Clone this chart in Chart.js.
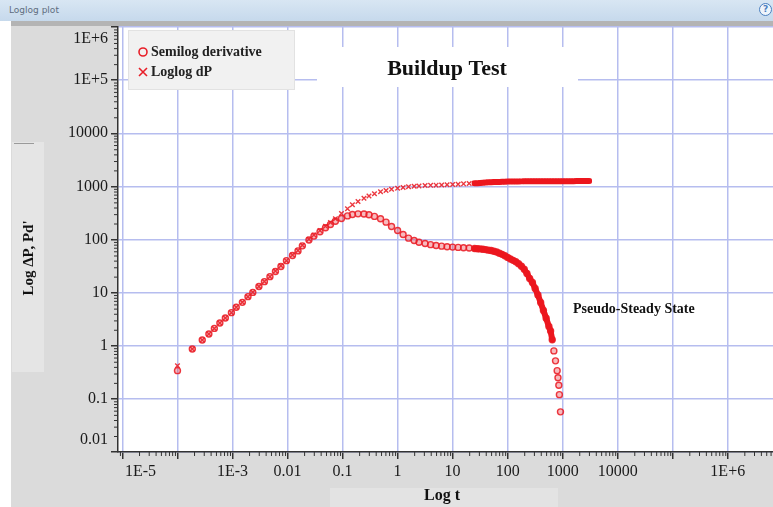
<!DOCTYPE html>
<html>
<head>
<meta charset="utf-8">
<script src="https://cdn.jsdelivr.net/npm/chart.js@4.4.1/dist/chart.umd.min.js"></script>
<style>
html,body{margin:0;padding:0;width:773px;height:507px;overflow:hidden;background:#fff;}
#wrap{position:absolute;left:0;top:0;width:790px;height:507px;}
#bar{position:absolute;left:0;top:0;width:773px;height:21px;background:linear-gradient(#d8e6f3,#c6d9ec);z-index:2;}
#bar span.t{position:absolute;left:9px;top:5px;font:9px "DejaVu Sans",sans-serif;color:#5f6d7e;}
#bar span.q{position:absolute;left:759px;top:3px;width:11px;height:11px;border:1.5px solid #4a7fc0;border-radius:50%;font:bold 9px "DejaVu Sans";color:#4a7fc0;text-align:center;line-height:11px;background:#eef4fb;}
#strip{position:absolute;left:11px;top:21px;width:762px;height:5px;background:#b4b4b4;z-index:2;}
</style>
</head>
<body>
<div id="bar"><span class="t">Loglog plot</span><span class="q">?</span></div>
<div id="strip"></div>
<div id="wrap"><canvas id="c" width="790" height="507"></canvas></div>
<script>
// ---- data ----
const tDeriv = [0.0001,0.000186,0.000282,0.000372,0.000468,0.000589,0.000741,0.000955,0.00117,0.00151,0.00191,0.00234,0.00302,0.0038,0.00479,0.00603,0.00759,0.00955,0.0123,0.0155,0.0186,0.0245,0.0302,0.0389,0.049,0.0603,0.0741,0.0955,0.123,0.151,0.191,0.245,0.302,0.38,0.49,0.617,0.776,1,1.26,1.58,2.0,2.45,3.16,3.98,5.01,6.31,7.94,10,12.6,15.8,20,25.1,28.2,31.6,35.5,39.8,44.7,50.1,56.2,63.1,70.8,79.4,89.1,100,112,126,141,158,178,200,224,251,282,316,355,398,447,501,562,603,646,692,741,794,822,851,871,912];
const deriv = [0.34,0.87,1.28,1.66,2.12,2.68,3.33,4.2,5.3,6.56,8.4,10.1,13,16.1,20,25,31,40,50,61,76,98,116,140,166,192,220,248,278,296,304,302,292,272,246,212,176,148,124,106,96,89,84,80,77,75,73,72,71,70,69,67.5,67,66.5,65.5,64.5,63,62,60,58,55,52.5,49.5,46,43,40.5,38,35,31.5,27.5,23,18.5,15.5,12,9,6.5,4.6,3.3,2.3,1.9,1.3,0.8,0.52,0.34,0.25,0.18,0.12,0.057];
const tDP = [0.0001,0.000186,0.000282,0.000372,0.000468,0.000589,0.000741,0.000955,0.00117,0.00151,0.00191,0.00234,0.00302,0.0038,0.00479,0.00603,0.00759,0.00955,0.0123,0.0155,0.0186,0.0245,0.0302,0.0389,0.049,0.0603,0.0741,0.0955,0.123,0.151,0.191,0.245,0.302,0.38,0.49,0.617,0.776,1,1.26,1.58,2.0,2.45,3.16,3.98,5.01,6.31,7.94,10,12.6,15.8,20,25.1,28.2,31.6,35.5,39.8,44.7,50.1,56.2,63.1,70.8,79.4,89.1,100,112,126,141,158,178,200,224,251,282,316,355,398,447,501,562,631,708,794,891,1000,1122,1259,1413,1585,1778,1995,2239,2512,2818,3020];
const dP = [0.42,0.87,1.28,1.66,2.12,2.68,3.33,4.2,5.3,6.6,8.4,10.2,13,16.2,20,25.5,32,40,51,62,78,101,121,147,177,208,245,310,380,452,521,600,656,728,794,840,885,920,955,985,1005,1020,1035,1045,1055,1065,1070,1080,1100,1115,1130,1145,1150,1160,1170,1180,1190,1195,1205,1210,1215,1220,1225,1230,1233,1236,1238,1240,1242,1244,1245,1246,1247,1248,1249,1250,1250,1251,1251,1252,1252,1253,1253,1254,1254,1255,1255,1255,1256,1256,1256,1257,1257,1257];
const xTickValues = [1e-5,1e-4,1e-3,0.01,0.1,1,10,100,1000,10000,1e5,1e6];
const xTickLabels = ['         1E-5','','1E-3','0.01','0.1','1','10','100','1000','10000','','1E+6'];
const yTickValues = [0.01,0.1,1,10,100,1000,10000,1e5,1e6];
const yTickLabels = [['0.01',''],'0.1','1','10','100','1000','10000','1E+5',['','1E+6']];
const chartTitle = 'Buildup Test';
const noteText = 'Pseudo-Steady State';
const xTitle = 'Log t';
const yTitle = "Log \u0394P, Pd'";
const denseFrom = 25;
const derivDenseMinValue = 1.0;

const RED = 'rgba(233,28,38,0.88)';
const REDFILL = 'rgba(233,28,38,0.3)';
const SERIF = '"Liberation Serif","Times New Roman",serif';

function idxOf(arr, v){ let b=0; for(let i=1;i<arr.length;i++){ if(Math.abs(Math.log10(arr[i])-Math.log10(v)) < Math.abs(Math.log10(arr[b])-Math.log10(v))) b=i; } return b; }

function drawBands(chart, color, width){
  const {ctx, scales:{x,y}} = chart;
  ctx.save();
  ctx.strokeStyle = color; ctx.lineWidth = width; ctx.lineJoin='round'; ctx.lineCap='round';
  const bands = [[tDeriv, deriv, derivDenseMinValue],[tDP, dP, 0]];
  for (const b of bands){
    const ts=b[0], vs=b[1], minV=b[2];
    ctx.beginPath(); let started=false;
    for (let i=0;i<ts.length;i++){
      if (ts[i] >= denseFrom && vs[i] >= minV){
        const px = x.getPixelForValue(ts[i]), py = y.getPixelForValue(vs[i]);
        if(!started){ ctx.moveTo(px,py); started=true; } else ctx.lineTo(px,py);
      }
    }
    ctx.stroke();
  }
  ctx.restore();
}

const decor = {
  id:'decor',
  beforeDraw(chart){
    const {ctx, chartArea:a, width, height} = chart;
    ctx.save();
    ctx.fillStyle = '#dbdbdb'; ctx.fillRect(0,0,width,height);
    ctx.fillStyle = '#ffffff'; ctx.fillRect(0,0,11,height);
    ctx.fillStyle = '#e5e5e5'; ctx.fillRect(12,142,32,230);
    ctx.fillStyle = '#9a9a9a'; ctx.fillRect(14,143,20,1);
    ctx.fillStyle = '#e3e3e3'; ctx.fillRect(330,488,228,19);
    ctx.fillStyle = '#ffffff'; ctx.fillRect(a.left,a.top,a.right-a.left,a.bottom-a.top);
    ctx.restore();
  },
  beforeDatasetsDraw(chart){
    const {ctx} = chart;
    ctx.save();
    ctx.fillStyle = '#ffffff'; ctx.fillRect(317,47,261,40);
    ctx.restore();
  },
  afterDatasetsDraw(chart){
    drawBands(chart, 'rgb(236,22,30)', 6);
  },
  afterDraw(chart){
    const {ctx, chartArea:a, scales:{x,y}} = chart;
    ctx.save();
    ctx.strokeStyle = '#333'; ctx.lineWidth = 1;
    ctx.beginPath();
    for (let e=-6;e<=7;e++){ for (let k=2;k<=9;k++){ const v = k*Math.pow(10,e);
      const px = x.getPixelForValue(v);
      if (px>=a.left && px<=a.right){ ctx.moveTo(px+0.5,a.bottom); ctx.lineTo(px+0.5,a.bottom+4); }
      const py = y.getPixelForValue(v);
      if (py>=a.top && py<=a.bottom){ ctx.moveTo(a.left-4,py+0.5); ctx.lineTo(a.left,py+0.5); }
    }}
    ctx.stroke();
    ctx.fillStyle = '#111'; ctx.textAlign='center'; ctx.textBaseline='middle';
    ctx.font = 'bold 22px '+SERIF; ctx.fillText(chartTitle, 447, 69);
    ctx.textAlign='left'; ctx.font = 'bold 14px '+SERIF; ctx.fillText(noteText, 573, 309);
    ctx.textAlign='center'; ctx.font = 'bold 16px '+SERIF; ctx.fillText(xTitle, 442, 496);
    ctx.save(); ctx.translate(29,258); ctx.rotate(-Math.PI/2); ctx.font='bold 15px '+SERIF; ctx.fillText(yTitle,0,0); ctx.restore();
    ctx.fillStyle = '#f1f1f1'; ctx.fillRect(128,30,167,60);
    ctx.strokeStyle = '#e2e2e2'; ctx.lineWidth=1; ctx.strokeRect(128.5,30.5,166,59);
    const ds = chart.data.datasets;
    ctx.strokeStyle = 'rgb(232,30,40)'; ctx.lineWidth = 1.6;
    ctx.beginPath(); ctx.arc(143,52,4,0,Math.PI*2); ctx.stroke();
    ctx.beginPath(); ctx.moveTo(139,68); ctx.lineTo(147,76); ctx.moveTo(147,68); ctx.lineTo(139,76); ctx.stroke();
    ctx.fillStyle='#222'; ctx.textAlign='left'; ctx.font='bold 14px '+SERIF;
    ctx.fillText(ds[0].label, 151, 52);
    ctx.fillText(ds[1].label, 151, 72);
    ctx.restore();
  }
};

const gridCommon = {color:'#b6bdef', lineWidth:1.5, tickColor:'#333', tickLength:7, drawTicks:true};
const borderCommon = {display:true, color:'#333', width:1.5};

new Chart(document.getElementById('c'), {
  type:'scatter',
  data:{ datasets:[
    { label:'Semilog derivative', data: tDeriv.map((t,i)=>({x:t,y:deriv[i]})),
      pointStyle:'circle', pointRadius:3, pointBorderWidth:1.4, borderColor:RED, backgroundColor:REDFILL,
      pointBorderColor:RED, pointBackgroundColor:REDFILL, showLine:false },
    { label:'Loglog dP', data: tDP.map((t,i)=>({x:t,y:dP[i]})),
      pointStyle:'crossRot', pointRadius:3.2, pointBorderWidth:1.4, borderColor:RED, backgroundColor:RED,
      pointBorderColor:RED, pointBackgroundColor:RED, showLine:false }
  ]},
  options:{
    responsive:false, animation:false, devicePixelRatio:1,
    layout:{padding:{top:27,right:10,left:0,bottom:0}},
    plugins:{legend:{display:false}, tooltip:{enabled:false}},
    scales:{
      x:{ type:'logarithmic', min:8.3e-6, max:8.9e6,
        afterBuildTicks: s => { s.ticks = xTickValues.map(v=>({value:v})); },
        afterFit: s => { s.height = 55; },
        ticks:{ autoSkip:false, maxRotation:0, minRotation:0, padding:3, color:'#1a1a1a',
          font:{family:SERIF, size:16}, callback: v => xTickLabels[idxOf(xTickValues,v)] },
        grid:gridCommon, border:borderCommon },
      y:{ type:'logarithmic', min:0.01, max:1e6,
        afterBuildTicks: s => { s.ticks = yTickValues.map(v=>({value:v})); },
        afterFit: s => { s.width = 118; },
        ticks:{ autoSkip:false, padding:3, color:'#1a1a1a',
          font:{family:SERIF, size:16, lineHeight:1.5}, callback: v => yTickLabels[idxOf(yTickValues,v)] },
        grid:gridCommon, border:borderCommon }
    }
  },
  plugins:[decor]
});
</script>
</body>
</html>
